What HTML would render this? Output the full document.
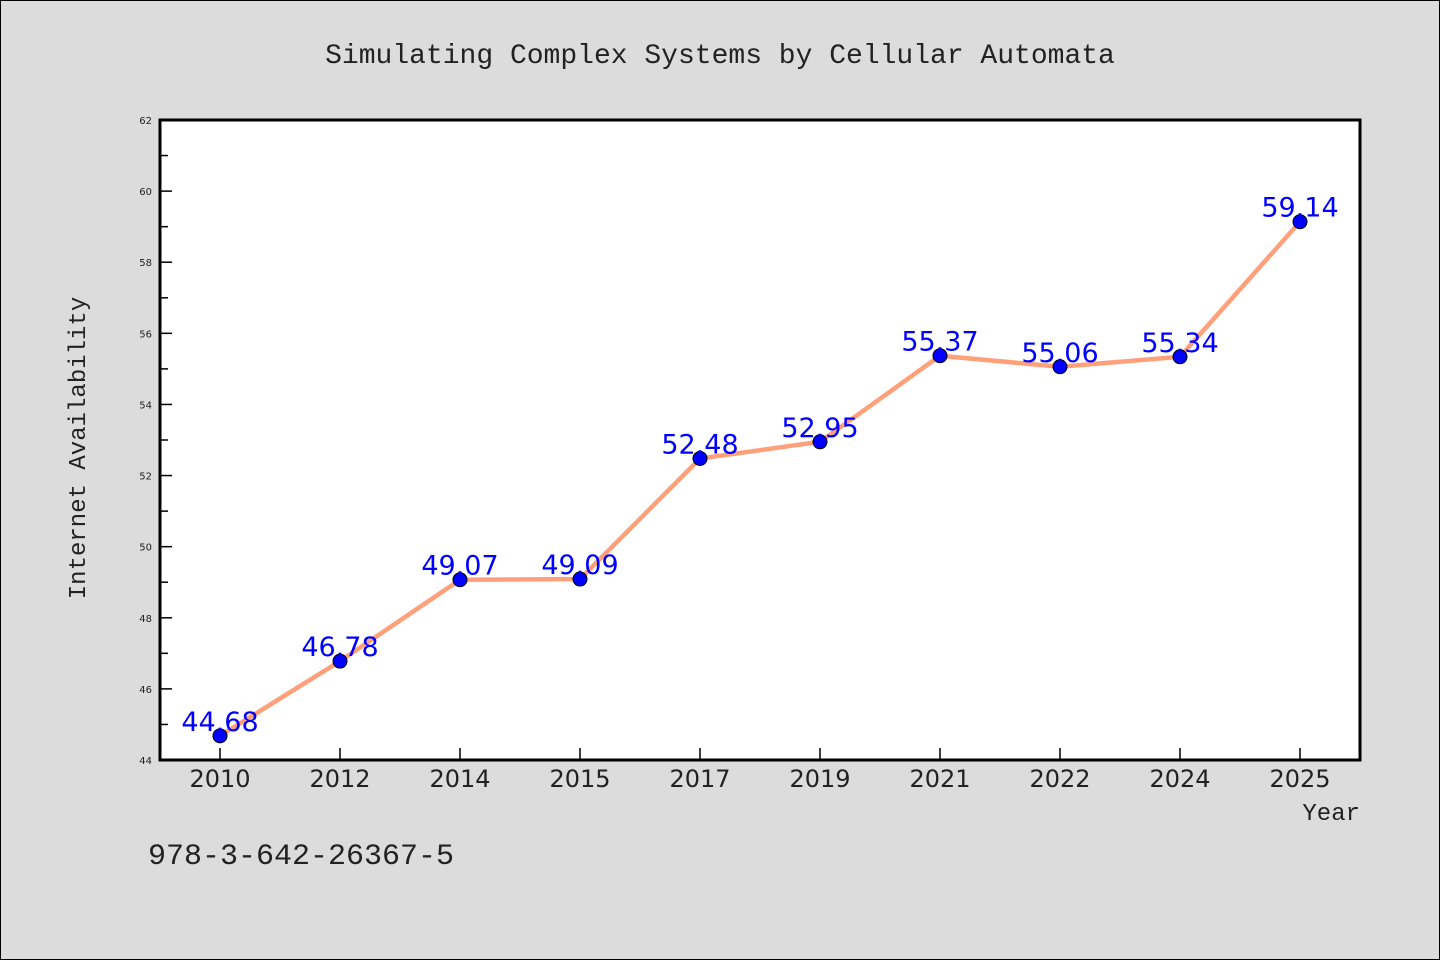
<!DOCTYPE html>
<html><head><meta charset="utf-8"><style>
body{margin:0;background:#dcdcdc;}
svg{display:block;font-family:"WenQuanYi Zen Hei","DejaVu Sans",sans-serif;}
</style></head><body>
<svg width="1440" height="960">
<rect x="0.5" y="0.5" width="1439" height="959" fill="#dcdcdc" stroke="#000"/>
<text x="720" y="63" text-anchor="middle" font-size="28" fill="#222" font-family="'Liberation Mono','WenQuanYi Zen Hei',monospace">Simulating Complex Systems by Cellular Automata</text>
<rect x="160" y="120" width="1200" height="640" fill="#fff"/>
<g id="axes"></g>
<g id="series"></g>
<rect x="160" y="120" width="1200" height="640" fill="none" stroke="#000" stroke-width="3"/>
<text x="85" y="448" text-anchor="middle" font-size="24" fill="#222" transform="rotate(-90 85 448)" font-family="'Liberation Mono','WenQuanYi Zen Hei',monospace">Internet Availability</text>
<text x="1360" y="820" text-anchor="end" font-size="24" fill="#222" font-family="'Liberation Mono','WenQuanYi Zen Hei',monospace">Year</text>
<text x="148" y="864" font-size="30" fill="#222" font-family="'Liberation Mono','WenQuanYi Zen Hei',monospace">978-3-642-26367-5</text>
</svg>
<script>
const categories=["2010","2012","2014","2015","2017","2019","2021","2022","2024","2025"];
const values=[44.68,46.78,49.07,49.09,52.48,52.95,55.37,55.06,55.34,59.14];
const labels=["44.68","46.78","49.07","49.09","52.48","52.95","55.37","55.06","55.34","59.14"];
const yTicks=[44,46,48,50,52,54,56,58,60,62];
const NS="http://www.w3.org/2000/svg";
const L=160,R=1360,T=120,B=760,yMin=44,yMax=62;
const band=(R-L)/categories.length;
function xs(i){return L+band*(i+0.5);}
function ys(v){return B-(v-yMin)/(yMax-yMin)*(B-T);}
function mk(tag,a,p){const e=document.createElementNS(NS,tag);for(const k in a)e.setAttribute(k,a[k]);p.appendChild(e);return e;}
const ax=document.getElementById('axes'),sr=document.getElementById('series');
yTicks.forEach((t,i)=>{
 const y=ys(t);
 const tk=mk('line',{x1:L,x2:L+12,y1:y,y2:y,stroke:'#000','stroke-width':1.5},ax);
 
 
 const tx=mk('text',{x:L-8,y:y+4,'text-anchor':'end','font-size':10,fill:'#222'},ax);
 tx.textContent=t;
 
 
 if(i<yTicks.length-1){
  const m=ys(t+1);
  const mn=mk('line',{x1:L,x2:L+8,y1:m,y2:m,stroke:'#000','stroke-width':1.5},ax);
  
  
 }
});
categories.forEach((c,i)=>{
 const x=xs(i);
 const tk=mk('line',{x1:x,x2:x,y1:B,y2:B-12,stroke:'#000','stroke-width':1.5},ax);
 
 
 const tx=mk('text',{x:x,y:B+27,'text-anchor':'middle','font-size':24,fill:'#222'},ax);
 tx.textContent=c;
 
 
});
const pl=mk('polyline',{points:values.map((v,i)=>xs(i)+','+ys(v)).join(' '),fill:'none',stroke:'#ffa07a','stroke-width':4.5,'stroke-linejoin':'round'},sr);


values.forEach((v,i)=>{
 const c=mk('circle',{cx:xs(i),cy:ys(v),r:7,fill:'#0000ff',stroke:'#000','stroke-width':1},sr);
 
 
});
values.forEach((v,i)=>{
 const t=mk('text',{x:xs(i),y:ys(v)-5,'text-anchor':'middle','font-size':27,fill:'#0000ff'},sr);
 t.textContent=labels[i];
 
 
});
</script>
</body></html>
